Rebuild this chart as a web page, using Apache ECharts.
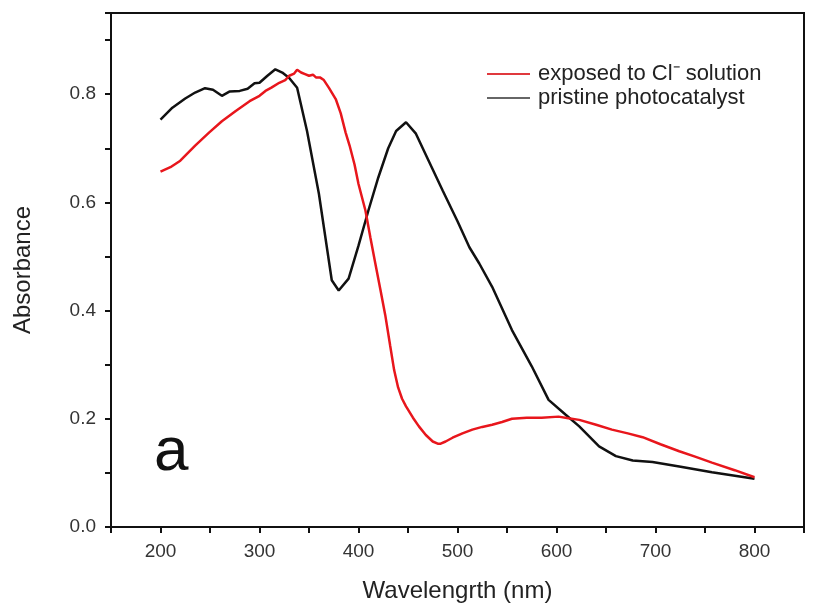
<!DOCTYPE html>
<html>
<head>
<meta charset="utf-8">
<script src="https://cdn.jsdelivr.net/npm/echarts@6/dist/echarts.min.js"></script>
<style>html,body{margin:0;padding:0;background:#fff}#chart{width:817px;height:608px}</style>
</head>
<body>
<div id="chart"></div>
<script>
// Pristine photocatalyst (black)
const pristineX = [200,212,225,235,245,253,262,270,280,288,295,300,308,316,323,330,338,348,360,373,380,390,400,410,420,430,438,448,458,470,485,500,512,522,535,555,575,592,609,623,643,660,677,697,724,757,800];
const pristineY = [0.753,0.775,0.792,0.803,0.811,0.808,0.797,0.805,0.806,0.810,0.820,0.821,0.834,0.846,0.840,0.830,0.812,0.732,0.616,0.456,0.437,0.459,0.520,0.585,0.646,0.700,0.732,0.748,0.727,0.680,0.622,0.565,0.517,0.487,0.444,0.364,0.297,0.235,0.208,0.186,0.149,0.131,0.123,0.120,0.112,0.101,0.089];
// Exposed to Cl- solution (red)
const exposedX = [200,210,220,235,249,262,276,290,300,306,312,320,326,330,335,338,342,346,350,354,357,361,365,370,377,382,387,391,396,400,407,412,417,422,427,432,436,440,444,448,455,461,468,475,480,483,488,495,505,515,525,535,545,555,570,585,602,612,623,640,656,672,687,705,724,740,757,780,800];
const exposedY = [0.657,0.665,0.677,0.705,0.729,0.750,0.769,0.787,0.797,0.806,0.812,0.821,0.826,0.834,0.838,0.845,0.840,0.837,0.834,0.836,0.831,0.831,0.826,0.812,0.791,0.765,0.729,0.705,0.670,0.634,0.585,0.535,0.487,0.440,0.392,0.335,0.290,0.258,0.237,0.223,0.202,0.186,0.170,0.158,0.154,0.154,0.158,0.165,0.173,0.180,0.185,0.189,0.194,0.200,0.202,0.202,0.204,0.201,0.198,0.189,0.180,0.173,0.166,0.153,0.140,0.130,0.119,0.105,0.092];
const seriesNames = ['exposed to Cl\u207B solution', 'pristine photocatalyst'];
const xTickLabels = [200,300,400,500,600,700,800];
const yTickLabels = [0.0,0.2,0.4,0.6,0.8];

const zip = (xs, ys) => xs.map((x, i) => [x, ys[i]]);
const font = 'Liberation Sans, Arial, sans-serif';
const chart = echarts.init(document.getElementById('chart'));
chart.setOption({
  animation: false,
  backgroundColor: '#fff',
  grid: {left: 111, right: 13, top: 13, bottom: 80, show: true, borderColor: '#111', borderWidth: 2, containLabel: false},
  legend: {
    orient: 'vertical', left: 482, top: 58, itemWidth: 43, itemHeight: 2, itemGap: 2,
    icon: 'rect',
    data: [
      {name: seriesNames[0], itemStyle: {color: '#e0393e'}},
      {name: seriesNames[1], itemStyle: {color: '#666'}}
    ],
    textStyle: {fontFamily: font, fontSize: 22, color: '#222', padding: [0,0,0,3], lineHeight: 22}
  },
  xAxis: {
    type: 'value', min: 150, max: 850, interval: 50,
    name: 'Wavelengrth (nm)', nameLocation: 'middle', nameGap: 52,
    nameTextStyle: {fontFamily: font, fontSize: 24, color: '#222'},
    axisLine: {lineStyle: {color: '#111', width: 2}},
    axisTick: {inside: false, length: 6, lineStyle: {color: '#111', width: 2}},
    axisLabel: {fontFamily: font, fontSize: 19, color: '#333', margin: 15,
      formatter: v => xTickLabels.includes(v) ? String(v) : ''},
    splitLine: {show: false}
  },
  yAxis: {
    type: 'value', min: 0, max: 0.95, interval: 0.1,
    name: 'Absorbance', nameLocation: 'middle', nameGap: 76,
    nameTextStyle: {fontFamily: font, fontSize: 24, color: '#222'},
    axisLine: {lineStyle: {color: '#111', width: 2}},
    axisTick: {inside: false, length: 6, lineStyle: {color: '#111', width: 2}},
    axisLabel: {fontFamily: font, fontSize: 19, color: '#333', margin: 15,
      formatter: v => yTickLabels.some(t => Math.abs(t - v) < 1e-6) ? v.toFixed(1) : ''},
    splitLine: {show: false}
  },
  graphic: [{
    type: 'text', left: 154, top: 422,
    style: {text: 'a', fontFamily: font, fontSize: 62, fill: '#111'}
  }],
  series: [
    {name: seriesNames[0], type: 'line', data: zip(exposedX, exposedY), showSymbol: false, symbol: 'none',
      lineStyle: {color: '#e8161c', width: 2.5}, itemStyle: {color: '#e8161c'}, z: 3},
    {name: seriesNames[1], type: 'line', data: zip(pristineX, pristineY), showSymbol: false, symbol: 'none',
      lineStyle: {color: '#111', width: 2.5}, itemStyle: {color: '#111'}, z: 2}
  ]
});
</script>
</body>
</html>
